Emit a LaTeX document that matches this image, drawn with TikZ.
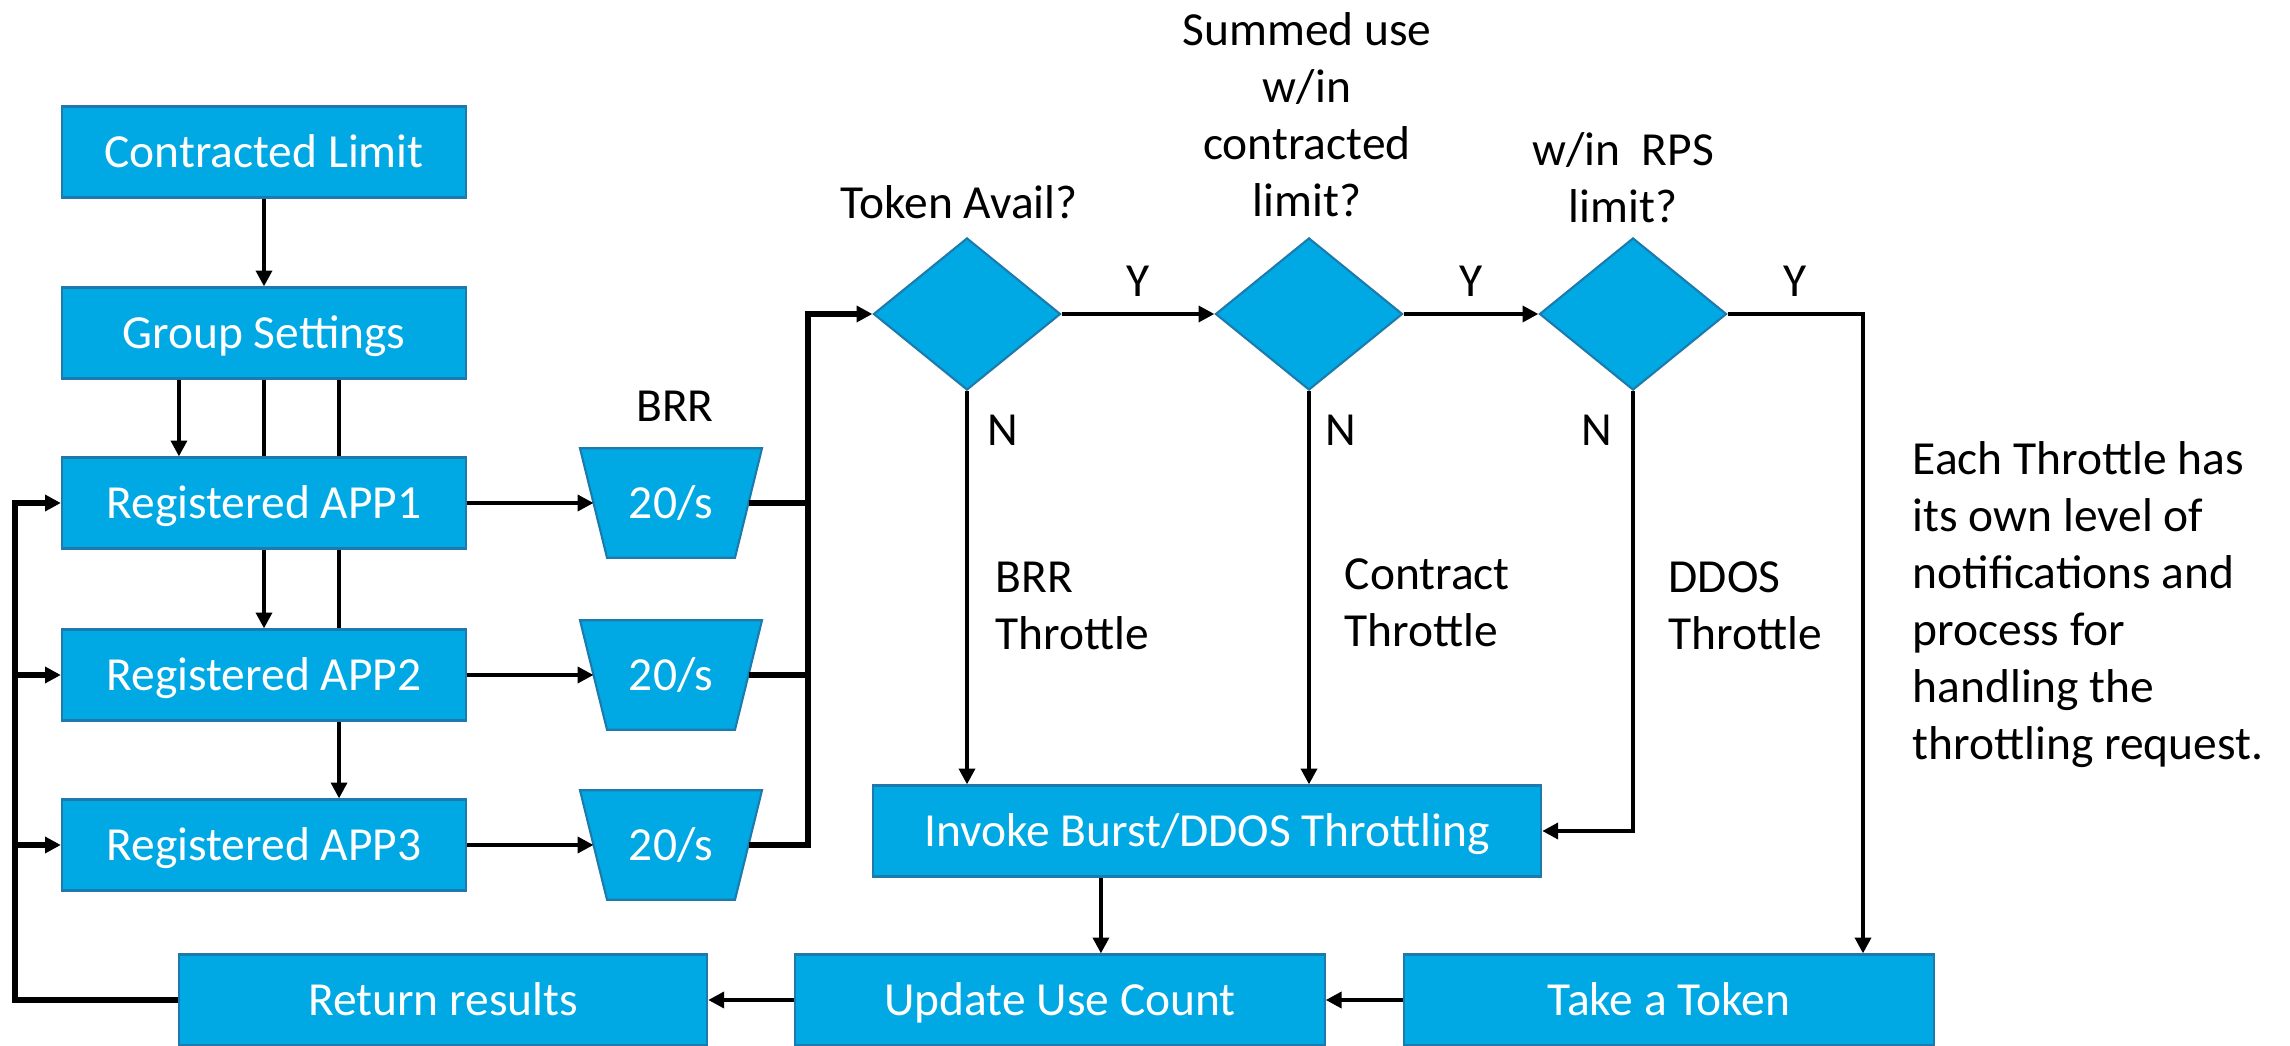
\documentclass[tikz,border=0pt]{standalone}
\usepackage{fontspec}
\setmainfont{Carlito}
\usetikzlibrary{arrows.meta,backgrounds,shapes.geometric}
\definecolor{boxblue}{RGB}{0,169,228}
\definecolor{boxedge}{RGB}{28,122,172}

\begin{document}
\begin{tikzpicture}[
    x=0.01cm, y=-0.01cm,
    box/.style={draw=boxedge, line width=0.6pt, fill=boxblue, text=white,
                minimum width=#1, minimum height=0.91cm, inner sep=0pt,
                text height=11pt, text depth=2.3pt,
                font=\fontsize{13.5}{16.2}\selectfont},
    box/.default=4.04cm,
    rate/.style={text=white, minimum width=1.535cm, minimum height=1.08cm,
                 inner sep=0pt, text height=11pt, text depth=2.3pt,
                 font=\fontsize{13.5}{16.2}\selectfont},
    ratebody/.style={draw=boxedge, line width=0.6pt, fill=boxblue},
    dec/.style={diamond, draw=boxedge, line width=0.6pt, fill=boxblue,
                minimum width=1.87cm, minimum height=1.52cm, inner sep=0pt},
    lbl/.style={font=\fontsize{13.5}{16.2}\selectfont, align=center, inner sep=0pt},
    yl/.style={lbl, above=4.5pt},
    flow/.style={-{Triangle[length=4.5pt, width=4.5pt]}, line width=1.1pt},
    bus/.style={line width=1.5pt},
  ]
    \useasboundingbox (0,0) rectangle (2290,1046);

    % Settings and apps
    \node[box] (cl)   at (264, 152) {Contracted Limit};
    \node[box] (gs)   at (264, 333) {Group Settings};
    \node[box] (app1) at (264, 503) {Registered APP1};
    \node[box] (app2) at (264, 675) {Registered APP2};
    \node[box] (app3) at (264, 845) {Registered APP3};

    % BRR limiters
    \node[lbl] (brr) at (675, 406) {BRR};
    \node[rate] (r1) at (671, 503) {20/s};
    \node[rate] (r2) at (671, 675) {20/s};
    \node[rate] (r3) at (671, 845) {20/s};

    % Checks
    \node[dec] (d1) at (967, 314) {};
    \node[dec] (d2) at (1309, 314) {};
    \node[dec] (d3) at (1633, 314) {};
    \node[lbl] (q1) at (959, 202) {Token Avail?};
    \node[lbl] (q2) at (1307, 115) {Summed use\\w/in\\contracted\\limit?};
    \node[lbl] (q3) at (1623, 178) {w/in~ RPS\\limit?};

    % Throttling and results
    \node[box=6.68cm] (inv)  at (1207, 831)  {Invoke Burst/DDOS Throttling};
    \node[box=5.29cm] (upd)  at (1060, 1000) {Update Use Count};
    \node[box=5.29cm] (take) at (1669, 1000) {Take a Token};
    \node[box=5.28cm] (ret)  at (443, 1000)  {Return results};

    \node[lbl, anchor=west, align=left] (t1) at (995, 606)  {BRR\\Throttle};
    \node[lbl, anchor=west, align=left] (t2) at (1344, 603) {Contract\\Throttle};
    \node[lbl, anchor=west, align=left] (t3) at (1668, 606) {DDOS\\Throttle};
    \node[lbl] (n1) at (1003, 430) {N};
    \node[lbl] (n2) at (1341, 430) {N};
    \node[lbl] (n3) at (1597, 430) {N};
    \node[lbl, anchor=west, align=left] (note) at (1912, 605)
      {Each Throttle has\\its own level of\\notifications and\\process for\\handling the\\throttling request.};

    \coordinate (bj) at (808, 314);
    \coordinate (yc) at (1863, 314);
    \coordinate (fb) at (15, 503);

    \begin{scope}[on background layer]
      % limiter bodies
      \foreach \r in {r1, r2, r3}
        \draw[ratebody] ([xshift=-0.135cm]\r.north west) -- ([xshift=0.135cm]\r.north east)
          -- ([xshift=-0.135cm]\r.south east) -- ([xshift=0.135cm]\r.south west) -- cycle;
      % lines behind the apps
      \draw[flow] (gs.south) -- (app2.north);
      \draw[flow] ([xshift=0.75cm]gs.south) -- ([xshift=0.75cm]app3.north);
    \end{scope}

    % Settings down to apps
    \draw[flow] (cl) -- (gs);
    \draw[flow] ([xshift=-0.85cm]gs.south) -- ([xshift=-0.85cm]app1.north);

    % Apps into limiters
    \draw[flow] (app1) -- (r1);
    \draw[flow] (app2) -- (r2);
    \draw[flow] (app3) -- (r3);
    \draw[bus] (r1.east) -- (r1.east -| bj);
    \draw[bus] (r2.east) -- (r2.east -| bj);
    \draw[flow, bus] (r3.east) -| (bj) -- (d1.west);

    % Yes path
    \draw[flow] (d1) -- node[yl] {Y} (d2);
    \draw[flow] (d2) -- node[yl] {Y} (d3);
    \draw[flow] (d3.east) -- node[yl] {Y} (yc) -- (yc |- take.north);

    % No path
    \draw[flow] (d1.south) -- (d1.south |- inv.north);
    \draw[flow] (d2.south) -- (d2.south |- inv.north);
    \draw[flow] (d3.south) |- (inv.east);

    % Back to the apps
    \draw[flow] ([xshift=-1.06cm]inv.south) -- ([xshift=-1.06cm]inv.south |- upd.north);
    \draw[flow] (take) -- (upd);
    \draw[flow] (upd) -- (ret);
    \draw[flow, bus] (ret.west) -| (fb) -- (app1.west);
    \draw[flow, bus] (fb |- app2.west) -- (app2.west);
    \draw[flow, bus] (fb |- app3.west) -- (app3.west);
  \end{tikzpicture}
\end{document}
